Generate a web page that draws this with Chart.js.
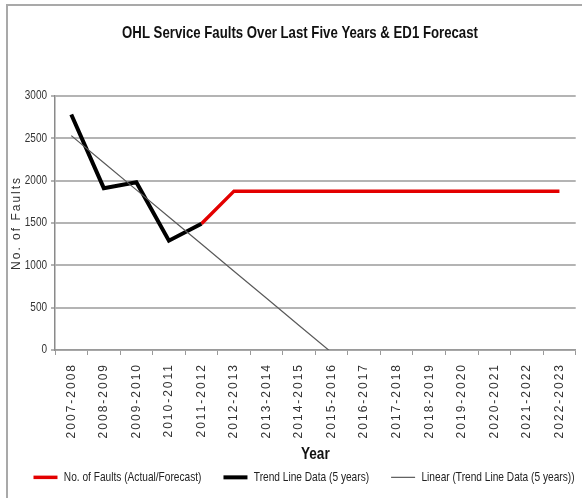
<!DOCTYPE html>
<html>
<head>
<meta charset="utf-8">
<script src="https://cdn.jsdelivr.net/npm/chart.js@4/dist/chart.umd.min.js"></script>
<style>
  html, body { margin: 0; padding: 0; background: #fff; }
  #wrap { position: relative; width: 582px; height: 498px; }
  #chart { position: absolute; left: 0; top: 0; }
  #frame {
    position: absolute; left: 6px; top: 4px; width: 600px; height: 520px;
    border-left: 2px solid #a9a9a9; border-top: 2px solid #a9a9a9;
    pointer-events: none;
  }
</style>
</head>
<body>
<div id="wrap">
  <canvas id="chart" width="582" height="498"></canvas>
  <div id="frame"></div>
</div>
<script>
// Financial years on the x axis
const years = [
  '2007-2008', '2008-2009', '2009-2010', '2010-2011', '2011-2012',
  '2012-2013', '2013-2014', '2014-2015', '2015-2016', '2016-2017',
  '2017-2018', '2018-2019', '2019-2020', '2020-2021', '2021-2022',
  '2022-2023'
];

// No. of faults: last actual year, then the ED1 forecast
const faultsActualForecast = [
  null, null, null, null, 1490,
  1875, 1875, 1875, 1875, 1875, 1875, 1875, 1875, 1875, 1875, 1875
];

// Actual faults over the last five years
const trendLineData = [2780, 1910, 1980, 1290, 1490];

// Linear trend of the five years, carried forward until it reaches zero
const linearTrend = [2530, 2210, 1890, 1570, 1250, 930, 610, 290, -30];

// Value axis ticks
const yTicks = [0, 500, 1000, 1500, 2000, 2500, 3000];

// "Narrow" text is drawn from the regular face, squeezed horizontally,
// since no condensed face is installed.
const NARROW = '"Liberation Sans Narrow", "Liberation Sans", Arial, sans-serif';
const SANS = '"Liberation Sans", Arial, sans-serif';
const SQUEEZE = 0.8;

const canvas = document.getElementById('chart');
const ctx = canvas.getContext('2d');
const baseFillText = ctx.fillText.bind(ctx);
const baseMeasureText = ctx.measureText.bind(ctx);
ctx.fillText = function (text, x, y, maxWidth) {
  if (!/Narrow/.test(this.font)) {
    return maxWidth === undefined ? baseFillText(text, x, y) : baseFillText(text, x, y, maxWidth);
  }
  this.save();
  this.translate(x, y);
  this.scale(SQUEEZE, 1);
  baseFillText(text, 0, 0);
  this.restore();
};
ctx.measureText = function (text) {
  const m = baseMeasureText(text);
  if (!/Narrow/.test(this.font)) return m;
  return {
    width: m.width * SQUEEZE,
    actualBoundingBoxLeft: m.actualBoundingBoxLeft * SQUEEZE,
    actualBoundingBoxRight: m.actualBoundingBoxRight * SQUEEZE,
    actualBoundingBoxAscent: m.actualBoundingBoxAscent,
    actualBoundingBoxDescent: m.actualBoundingBoxDescent,
    fontBoundingBoxAscent: m.fontBoundingBoxAscent,
    fontBoundingBoxDescent: m.fontBoundingBoxDescent
  };
};

const LEGEND_HEIGHT = 49;
const TITLE_CENTER_X = 300;
const LEGEND_CENTER_X = 304;

// Box tweaks: one-row legend of fixed height, spaced axis text, title/legend centring
const layoutTweaks = {
  id: 'layoutTweaks',
  beforeLayout(chart) {
    const lg = chart.legend;
    if (lg && !lg._fixedFit) {
      lg._fixedFit = true;
      const fit = lg.fit.bind(lg);
      lg.fit = function () {
        this.maxWidth = 700;
        fit();
        this.height = LEGEND_HEIGHT;
      };
    }
  },
  afterLayout(chart) {
    const tb = chart.titleBlock;
    if (tb) tb.right = 2 * TITLE_CENTER_X - tb.left;
    const lg = chart.legend;
    if (lg) {
      lg.right = 640;
      lg.left = 2 * LEGEND_CENTER_X - lg.right;
    }
  },
  beforeDraw(chart) {
    const x = chart.scales.x;
    const y = chart.scales.y;
    const c = chart.ctx;
    if (!x._spaced) {
      x._spaced = true;
      const drawLabels = x.drawLabels.bind(x);
      x.drawLabels = function (area) {
        c.save();
        c.letterSpacing = '2px';
        drawLabels(area);
        c.restore();
      };
    }
    if (!y._spaced) {
      y._spaced = true;
      const drawTitle = y.drawTitle.bind(y);
      y.drawTitle = function (area) {
        c.save();
        c.letterSpacing = '2px';
        drawTitle(area);
        c.restore();
      };
    }
  }
};

new Chart(ctx, {
  type: 'line',
  data: {
    labels: years,
    datasets: [
      {
        label: 'No. of Faults (Actual/Forecast)',
        data: faultsActualForecast,
        borderColor: '#e30000',
        backgroundColor: '#e30000',
        borderWidth: 3.5,
        pointRadius: 0,
        tension: 0,
        order: 2
      },
      {
        label: 'Trend Line Data (5 years)',
        data: trendLineData,
        borderColor: '#000000',
        backgroundColor: '#000000',
        borderWidth: 4,
        pointRadius: 0,
        tension: 0,
        order: 1
      },
      {
        label: 'Linear (Trend Line Data (5 years))',
        data: linearTrend,
        borderColor: '#5a5a5a',
        backgroundColor: '#5a5a5a',
        borderWidth: 1.2,
        pointRadius: 0,
        tension: 0,
        order: 0
      }
    ]
  },
  options: {
    responsive: false,
    animation: false,
    events: [],
    layout: { padding: { left: 8, right: 5, top: 0, bottom: 0 } },
    plugins: {
      title: {
        display: true,
        text: 'OHL Service Faults Over Last Five Years & ED1 Forecast',
        color: '#111',
        font: { family: NARROW, size: 16.5, weight: 'bold' },
        padding: { top: 24, bottom: 52 }
      },
      legend: {
        position: 'bottom',
        labels: {
          color: '#222',
          font: { family: NARROW, size: 12.7 },
          usePointStyle: true,
          pointStyle: 'line',
          pointStyleWidth: 24,
          padding: 22,
          sort: (a, b) => a.datasetIndex - b.datasetIndex
        }
      },
      tooltip: { enabled: false }
    },
    scales: {
      x: {
        type: 'category',
        offset: true,
        grid: {
          display: true,
          drawOnChartArea: false,
          drawTicks: true,
          offset: true,
          tickLength: 5,
          color: '#9a9a9a',
          lineWidth: 1
        },
        border: { display: true, color: '#9a9a9a', width: 1.5 },
        ticks: {
          minRotation: 90,
          maxRotation: 90,
          autoSkip: false,
          padding: 8,
          color: '#333',
          font: { family: SANS, size: 12 }
        },
        title: {
          display: true,
          text: 'Year',
          color: '#111',
          font: { family: NARROW, size: 17, weight: 'bold' },
          padding: { top: 0, bottom: -16 }
        },
        afterFit(scale) { scale.height = 99; }
      },
      y: {
        min: 0,
        max: 3000,
        afterBuildTicks(scale) { scale.ticks = yTicks.map(v => ({ value: v })); },
        grid: {
          color: '#b4b4b4',
          lineWidth: 2,
          drawTicks: true,
          tickLength: 4
        },
        border: { display: true, color: '#8a8a8a', width: 1.5 },
        ticks: {
          padding: 4,
          color: '#333',
          font: { family: NARROW, size: 12.5 },
          callback: (v) => String(v)
        },
        title: {
          display: true,
          text: 'No. of Faults',
          color: '#333',
          font: { family: SANS, size: 12 },
          padding: { top: 1, bottom: 0 }
        },
        afterFit(scale) { scale.width = 47; }
      }
    }
  },
  plugins: [layoutTweaks]
});
</script>
</body>
</html>
